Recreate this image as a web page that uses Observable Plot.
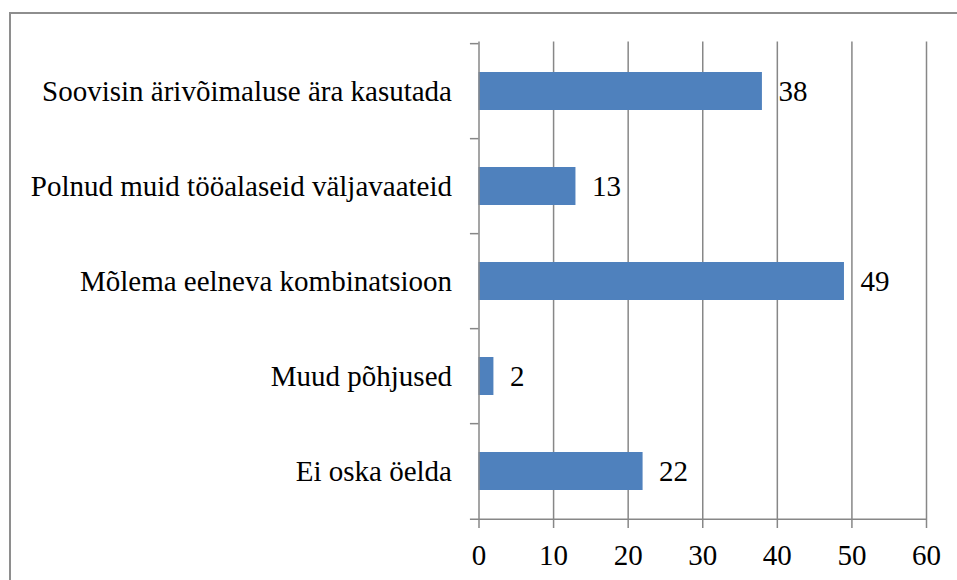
<!DOCTYPE html>
<html><head><meta charset="utf-8">
<script src="https://cdn.jsdelivr.net/npm/d3@7"></script>
<script src="https://cdn.jsdelivr.net/npm/@observablehq/plot@0.6"></script>
<style>
html,body{margin:0;padding:0;background:#fff;}
#wrap{position:relative;width:957px;height:580px;overflow:hidden;}
#frame{position:absolute;left:9px;top:12px;width:1000px;height:700px;border:2px solid #8e8e8e;box-sizing:border-box;}
#chart{position:absolute;left:0;top:0;}
</style></head><body>
<div id="wrap"><div id="frame"></div><div id="chart"></div></div>
<script>
const categories = [
  "Soovisin ärivõimaluse ära kasutada",
  "Polnud muid tööalaseid väljavaateid",
  "Mõlema eelneva kombinatsioon",
  "Muud põhjused",
  "Ei oska öelda"
];
const values = [38, 13, 49, 2, 22];
const xTicks = [0, 10, 20, 30, 40, 50, 60];

const data = categories.map((c, i) => ({category: c, value: values[i]}));
const W = 957, H = 580, mt = 41.5, mb = 60, ml = 478.5, mr = 31;
const pIn = 0.6, pOut = 0.3;
const step = (H - mt - mb) / (categories.length - pIn + 2 * pOut);
const gray = "#878787";

const plot = Plot.plot({
  width: W, height: H,
  marginTop: mt, marginBottom: mb, marginLeft: ml, marginRight: mr,
  style: {fontFamily: "'Liberation Serif', 'Times New Roman', serif", fontSize: "29px", color: "#000", background: "transparent"},
  x: {domain: [0, 60], ticks: xTicks, label: null},
  y: {domain: categories, paddingInner: pIn, paddingOuter: pOut, label: null},
  marks: [
    Plot.ruleX(xTicks.slice(1), {stroke: gray, strokeWidth: 1.5}),
    Plot.barX(data, {x: "value", y: "category", fill: "#4F81BD"}),
    Plot.ruleX([0], {stroke: gray, strokeWidth: 1.5}),
    Plot.ruleY(categories, {y: d => d, x1: -1.15, x2: 0, dy: -step / 2, stroke: gray, strokeWidth: 1.5}),
    Plot.ruleY([categories[categories.length - 1]], {y: d => d, x1: -1.15, x2: 60, dy: step / 2, stroke: gray, strokeWidth: 1.5}),
    Plot.text(data, {x: "value", y: "category", text: d => String(d.value), textAnchor: "start", dx: 16, fill: "#000", fontSize: 29}),
    Plot.axisX({ticks: xTicks, tickSize: 8, tickPadding: 16, stroke: gray, strokeWidth: 1.5, label: null, fontSize: 29}),
    Plot.axisY({tickSize: 0, tickPadding: 27, label: null, fontSize: 29})
  ]
});
document.getElementById("chart").appendChild(plot);
</script>
</body></html>
